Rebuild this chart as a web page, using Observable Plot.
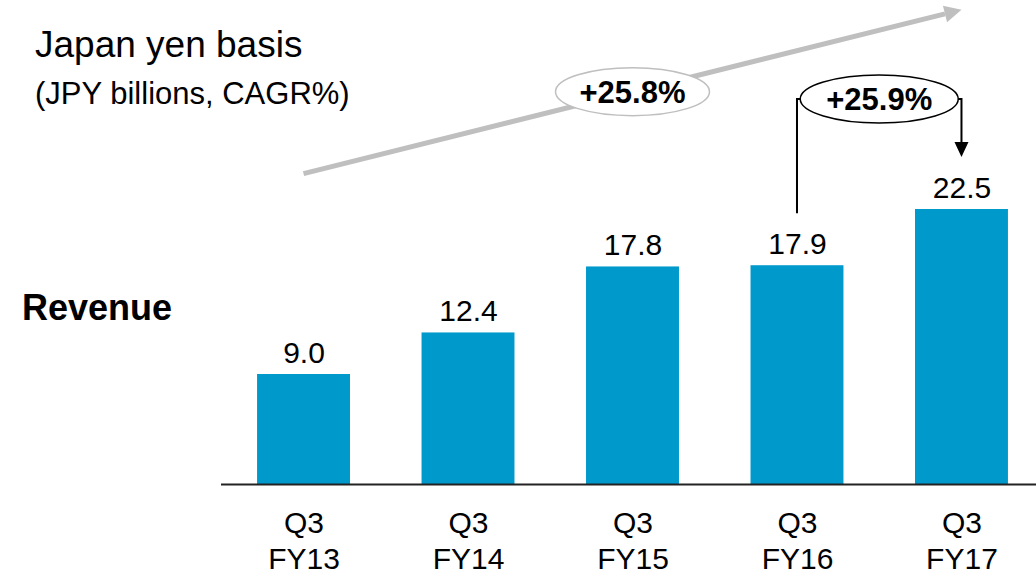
<!DOCTYPE html>
<html>
<head>
<meta charset="utf-8">
<script src="https://cdn.jsdelivr.net/npm/d3@7"></script>
<script src="https://cdn.jsdelivr.net/npm/@observablehq/plot@0.6"></script>
<style>
  html, body { margin: 0; padding: 0; background: #fff; }
  #wrap { position: relative; width: 1036px; height: 578px; font-family: "Liberation Sans", Arial, sans-serif; color: #000; }
  .lbl { position: absolute; white-space: nowrap; line-height: 1; }
  #title { left: 35px; top: 26px; font-size: 37px; }
  #subtitle { left: 35px; top: 78px; font-size: 31px; }
  #rowlabel { left: 22px; top: 290px; font-size: 36px; font-weight: bold; }
  #chart { position: absolute; left: 0; top: 0; }
</style>
</head>
<body>
<div id="wrap">
  <div id="chart"></div>
  <div class="lbl" id="title">Japan yen basis</div>
  <div class="lbl" id="subtitle">(JPY billions, CAGR%)</div>
  <div class="lbl" id="rowlabel">Revenue</div>
</div>
<script>
// ---- data ----
const quarters = ["Q3 FY13", "Q3 FY14", "Q3 FY15", "Q3 FY16", "Q3 FY17"];
const revenue = [9.0, 12.4, 17.8, 17.9, 22.5];
const cagrLabels = ["+25.8%", "+25.9%"];   // 4-year CAGR, year-on-year growth
const trendY = [25.4, 38.8];               // grey trend arrow start / end (value units)
const yoyBracketY = 31.5;                  // level of the YoY bracket (value units)

const data = quarters.map((q, i) => ({q, v: revenue[i]}));

const FONT = "'Liberation Sans', Arial, sans-serif";
const BAR = "#0099CC";
const GREY = "#BFBFBF";

function annotations(index, scales, values, dims) {
  const sx = scales.x, sy = scales.y;
  const bw = typeof sx.bandwidth === "function" ? sx.bandwidth() : (sx.bandwidth || 0);
  const cx = k => sx(k) + bw / 2;
  const g = d3.create("svg:g").attr("font-family", FONT);

  // grey trend arrow (first -> last quarter)
  const x0 = cx(quarters[0]), y0 = sy(trendY[0]);
  const x1 = cx(quarters[quarters.length - 1]), y1 = sy(trendY[1]);
  const ang = Math.atan2(y1 - y0, x1 - x0);
  const hl = 17, hw = 8.5;
  const bx = x1 - hl * Math.cos(ang), by = y1 - hl * Math.sin(ang);
  g.append("line").attr("x1", x0).attr("y1", y0).attr("x2", bx).attr("y2", by)
    .attr("stroke", GREY).attr("stroke-width", 5);
  g.append("path")
    .attr("d", `M${x1},${y1}L${bx + hw * Math.sin(ang)},${by - hw * Math.cos(ang)}L${bx - hw * Math.sin(ang)},${by + hw * Math.cos(ang)}Z`)
    .attr("fill", GREY);

  // CAGR ellipse on the trend line, above the middle quarter
  const ex1 = cx(quarters[2]);
  const ey1 = y0 + (ex1 - x0) * Math.tan(ang);
  g.append("ellipse").attr("cx", ex1).attr("cy", ey1).attr("rx", 77).attr("ry", 24)
    .attr("fill", "#fff").attr("stroke", GREY).attr("stroke-width", 1.5);
  g.append("text").attr("x", ex1).attr("y", ey1 + 11).attr("text-anchor", "middle")
    .attr("font-size", 31).attr("font-weight", "bold").text(cagrLabels[0]);

  // YoY bracket FY16 -> FY17
  const a = cx(quarters[3]), b = cx(quarters[4]);
  const ey2 = sy(yoyBracketY);
  const ex2 = (a + b) / 2;
  const startY = sy(revenue[3]) - 52;
  const endY = sy(revenue[4]) - 52;
  g.append("path").attr("d", `M${a},${startY}V${ey2}H${ex2}`)
    .attr("fill", "none").attr("stroke", "#000").attr("stroke-width", 2);
  g.append("path").attr("d", `M${ex2},${ey2}H${b}V${endY - 14}`)
    .attr("fill", "none").attr("stroke", "#000").attr("stroke-width", 2);
  g.append("path").attr("d", `M${b},${endY}L${b - 7},${endY - 15}L${b + 7},${endY - 15}Z`).attr("fill", "#000");
  g.append("ellipse").attr("cx", ex2).attr("cy", ey2).attr("rx", 79).attr("ry", 24)
    .attr("fill", "#fff").attr("stroke", "#000").attr("stroke-width", 1.5);
  g.append("text").attr("x", ex2).attr("y", ey2 + 11).attr("text-anchor", "middle")
    .attr("font-size", 31).attr("font-weight", "bold").text(cagrLabels[1]);
  return g.node();
}

const chart = Plot.plot({
  width: 1036,
  height: 578,
  marginLeft: 221,
  marginRight: 0,
  marginTop: 0,
  marginBottom: 94,
  style: {fontFamily: FONT, background: "transparent", overflow: "visible"},
  x: {domain: quarters, range: [185.5, 1079.5], padding: 0.435, round: false, label: null},
  y: {domain: [0, 39.6], range: [484, 0], axis: null},
  marks: [
    Plot.barY(data, {x: "q", y: "v", fill: BAR}),
    Plot.ruleY([0], {stroke: "#222", strokeWidth: 2}),
    Plot.text(data, {x: "q", y: "v", text: d => d.v.toFixed(1), dy: -12, lineAnchor: "bottom", fontSize: 30, fill: "#000"}),
    Plot.axisX({tickSize: 0, tickPadding: 24, fontSize: 30, lineHeight: 1.17, tickFormat: d => d.replace(" ", "\n"), label: null, fill: "#000"}),
    annotations
  ]
});
document.getElementById("chart").appendChild(chart);
</script>
</body>
</html>
